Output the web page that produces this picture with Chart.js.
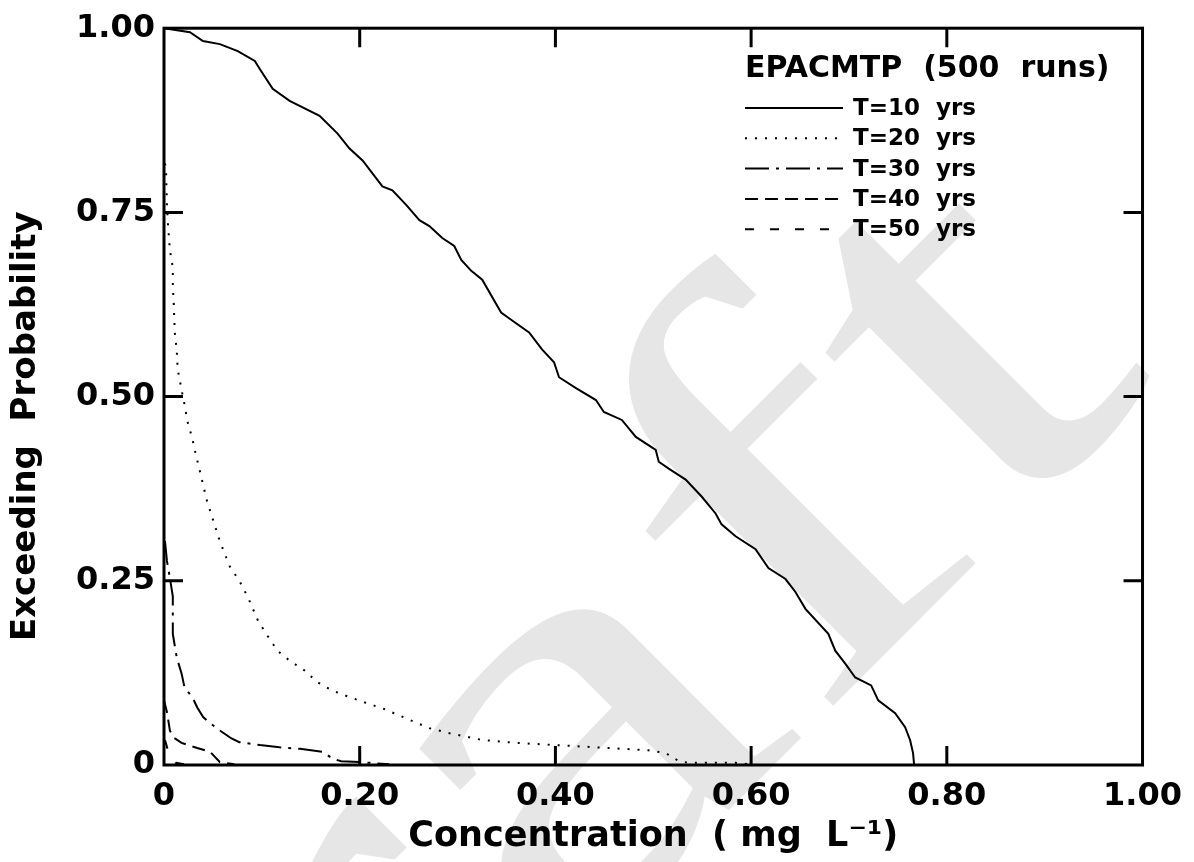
<!DOCTYPE html>
<html>
<head>
<meta charset="utf-8">
<title>EPACMTP exceeding probability</title>
<script src="https://cdn.jsdelivr.net/npm/chart.js@4.4.1/dist/chart.umd.min.js"></script>
<style>
  html, body { margin: 0; padding: 0; background: #fff; }
  #wrap { width: 1194px; height: 862px; }
</style>
</head>
<body>
<div id="wrap"><canvas id="chart" width="1194" height="862"></canvas></div>
<script>
// ===== DATA =====
var xTickValues = [0, 0.2, 0.4, 0.6, 0.8, 1.0];
var xTickLabels = ["0", "0.20", "0.40", "0.60", "0.80", "1.00"];
var yTickValues = [0, 0.25, 0.5, 0.75, 1.0];
var yTickLabels = ["0", "0.25", "0.50", "0.75", "1.00"];

var legendTitle = "EPACMTP  (500  runs)";
var seriesNames = ["T=10  yrs", "T=20  yrs", "T=30  yrs", "T=40  yrs", "T=50  yrs"];
var watermarkText = "Draft";

// T=10 yrs (solid)
var t10Conc = [0, 0.0265, 0.0398, 0.0571, 0.0754, 0.0928, 0.0979, 0.1111, 0.1284, 0.1590, 0.1774, 0.1896,
  0.2029, 0.2232, 0.2334, 0.2477, 0.2610, 0.2712, 0.2844, 0.2966, 0.3038, 0.3140, 0.3252, 0.3445, 0.3558,
  0.3731, 0.3863, 0.3986, 0.4037, 0.4210, 0.4414, 0.4495, 0.4679, 0.4822, 0.5025, 0.5056, 0.5158, 0.5331,
  0.5494, 0.5637, 0.5698, 0.5841, 0.6045, 0.6177, 0.6351, 0.6453, 0.6555, 0.6789, 0.6860, 0.6962, 0.7064,
  0.7227, 0.7299, 0.7472, 0.7574, 0.7625, 0.7655, 0.7666];
var t10Prob = [1.0, 0.9946, 0.9825, 0.9784, 0.9690, 0.9555, 0.9447, 0.9177, 0.9015, 0.8812, 0.8570, 0.8367,
  0.8205, 0.7854, 0.7800, 0.7598, 0.7395, 0.7314, 0.7152, 0.7045, 0.6856, 0.6707, 0.6586, 0.6140, 0.6032,
  0.5870, 0.5641, 0.5466, 0.5263, 0.5115, 0.4953, 0.4791, 0.4683, 0.4453, 0.4278, 0.4116, 0.4022, 0.3873,
  0.3644, 0.3414, 0.3266, 0.3104, 0.2928, 0.2672, 0.2524, 0.2348, 0.2119, 0.1781, 0.1552, 0.1377, 0.1188,
  0.1080, 0.0877, 0.0702, 0.0513, 0.0337, 0.0162, 0];

// T=20 yrs (dotted)
var t20Conc = [0.001, 0.002, 0.003, 0.004, 0.006, 0.009, 0.009, 0.010, 0.011, 0.013, 0.014, 0.017, 0.019,
  0.021, 0.024, 0.029, 0.031, 0.044, 0.057, 0.067, 0.077, 0.086, 0.096, 0.106, 0.116, 0.128, 0.144, 0.156,
  0.172, 0.190, 0.207, 0.225, 0.248, 0.271, 0.292, 0.325, 0.360, 0.401, 0.441, 0.468, 0.495, 0.513, 0.521,
  0.529, 0.539, 0.584, 0.605];
var t20Prob = [0.8165, 0.810, 0.760, 0.735, 0.699, 0.675, 0.650, 0.625, 0.587, 0.563, 0.537, 0.516, 0.502,
  0.489, 0.466, 0.443, 0.430, 0.358, 0.304, 0.270, 0.250, 0.227, 0.196, 0.175, 0.155, 0.142, 0.128, 0.113,
  0.101, 0.092, 0.084, 0.076, 0.063, 0.050, 0.043, 0.034, 0.030, 0.027, 0.024, 0.022, 0.020, 0.016, 0.009,
  0.004, 0.003, 0.003, 0];

// T=30 yrs (dash-dot)
var t30Conc = [0.001, 0.003, 0.006, 0.009, 0.009, 0.013, 0.018, 0.021, 0.029, 0.034, 0.040, 0.047, 0.057,
  0.069, 0.077, 0.098, 0.118, 0.139, 0.162, 0.172, 0.181, 0.200, 0.230];
var t30Prob = [0.304, 0.277, 0.254, 0.229, 0.178, 0.146, 0.124, 0.105, 0.092, 0.078, 0.065, 0.057, 0.047,
  0.036, 0.031, 0.027, 0.024, 0.022, 0.018, 0.009, 0.005, 0.004, 0.001];

// T=40 yrs (long dashes)
var t40Conc = [0, 0.003, 0.006, 0.009, 0.018, 0.034, 0.047, 0.052, 0.057, 0.072];
var t40Prob = [0.088, 0.072, 0.047, 0.038, 0.030, 0.023, 0.018, 0.011, 0.004, 0.001];

// T=50 yrs (short dashes)
var t50Conc = [0.001, 0.004, 0.009, 0.012, 0.026];
var t50Prob = [0.034, 0.020, 0.011, 0.003, 0];

var seriesConc = [t10Conc, t20Conc, t30Conc, t40Conc, t50Conc];
var seriesProb = [t10Prob, t20Prob, t30Prob, t40Prob, t50Prob];
var seriesDash = [[], [2, 8], [24, 7, 3, 7], [13, 7], [9, 16]];

// ===== HELPERS =====
function toPoints(xs, ys) {
  var pts = [];
  for (var i = 0; i < xs.length; i++) {
    pts.push({ x: xs[i], y: ys[i] });
  }
  return pts;
}

var datasets = [];
for (var s = 0; s < seriesNames.length; s++) {
  datasets.push({
    label: seriesNames[s],
    data: toPoints(seriesConc[s], seriesProb[s]),
    borderColor: "#000",
    borderWidth: 2,
    borderDash: seriesDash[s],
    borderCapStyle: "butt",
    pointRadius: 0,
    tension: 0,
    fill: false
  });
}

var FONT = "DejaVu Sans";

// big grey "Draft" behind everything (wide serif, so stretched sideways)
var watermark = {
  id: "watermark",
  beforeDraw: function(chart) {
    var ctx = chart.ctx;
    var size = 580;
    ctx.save();
    ctx.fillStyle = "#e6e6e6";
    ctx.font = size + "px 'Liberation Serif'";
    ctx.textBaseline = "alphabetic";
    ctx.textAlign = "left";
    ctx.translate(878, 661);
    ctx.rotate(-Math.PI / 4);
    ctx.scale(1.4, 1);
    var fX = -0.12 * size;           // f origin, its stem sits on the anchor
    var head = watermarkText.slice(0, 3);
    ctx.fillText(watermarkText, fX - ctx.measureText(head).width, 0);
    ctx.restore();
  }
};

// box round the plot + inward ticks on all four sides
var frameTicks = {
  id: "frameTicks",
  afterDatasetsDraw: function(chart) {
    var ctx = chart.ctx;
    var a = chart.chartArea;
    var xs = chart.scales.x, ys = chart.scales.y;
    var len = 19;
    ctx.save();
    ctx.strokeStyle = "#000";
    ctx.lineWidth = 3;
    ctx.lineCap = "butt";
    ctx.beginPath();
    for (var i = 1; i < xTickValues.length - 1; i++) {
      var px = xs.getPixelForValue(xTickValues[i]);
      ctx.moveTo(px, a.bottom); ctx.lineTo(px, a.bottom - len);
      ctx.moveTo(px, a.top); ctx.lineTo(px, a.top + len);
    }
    for (var j = 1; j < yTickValues.length - 1; j++) {
      var py = ys.getPixelForValue(yTickValues[j]);
      ctx.moveTo(a.left, py); ctx.lineTo(a.left + len, py);
      ctx.moveTo(a.right, py); ctx.lineTo(a.right - len, py);
    }
    ctx.stroke();
    ctx.strokeRect(a.left, a.top, a.right - a.left, a.bottom - a.top);
    ctx.restore();
  }
};

// legend in the top right corner, drawn from the datasets
var cornerLegend = {
  id: "cornerLegend",
  afterDraw: function(chart) {
    var ctx = chart.ctx;
    var x0 = 745, lineLen = 98, textX = 853;
    ctx.save();
    ctx.fillStyle = "#000";
    ctx.textBaseline = "middle";
    ctx.textAlign = "left";
    ctx.font = "bold 30px '" + FONT + "'";
    ctx.fillText(legendTitle, x0, 69);
    ctx.font = "bold 23px '" + FONT + "'";
    chart.data.datasets.forEach(function(ds, i) {
      var y = 108 + i * 30.3;
      ctx.strokeStyle = "#000";
      ctx.lineWidth = 2;
      ctx.setLineDash(ds.borderDash);
      ctx.beginPath();
      ctx.moveTo(x0, y);
      ctx.lineTo(x0 + lineLen, y);
      ctx.stroke();
      ctx.setLineDash([]);
      ctx.fillText(ds.label, textX, y + 1);
    });
    ctx.restore();
  }
};

new Chart(document.getElementById("chart"), {
  type: "line",
  data: { datasets: datasets },
  options: {
    responsive: false,
    animation: false,
    devicePixelRatio: 1,
    layout: { padding: { left: 0, top: 24, right: 49, bottom: 0 } },
    plugins: {
      legend: { display: false },
      tooltip: { enabled: false },
      title: { display: false }
    },
    scales: {
      x: {
        type: "linear",
        min: 0,
        max: 1,
        afterBuildTicks: function(scale) {
          scale.ticks = xTickValues.map(function(v) { return { value: v }; });
        },
        afterFit: function(scale) { scale.height = 97; },
        grid: { display: false, drawTicks: false },
        border: { display: false },
        ticks: {
          padding: 12,
          maxRotation: 0,
          color: "#000",
          font: { family: FONT, size: 32, weight: "bold" },
          callback: function(value) {
            var k = xTickValues.indexOf(value);
            return k >= 0 ? xTickLabels[k] : "";
          }
        },
        title: {
          display: true,
          text: "Concentration  ( mg  L\u207B\u00B9)",
          color: "#000",
          font: { family: FONT, size: 35, weight: "bold" },
          padding: { top: 0, bottom: 4 }
        }
      },
      y: {
        type: "linear",
        min: 0,
        max: 1,
        afterBuildTicks: function(scale) {
          scale.ticks = yTickValues.map(function(v) { return { value: v }; });
        },
        afterFit: function(scale) { scale.width = 164; },
        grid: { display: false, drawTicks: false },
        border: { display: false },
        ticks: {
          padding: 9,
          color: "#000",
          font: { family: FONT, size: 32, weight: "bold" },
          callback: function(value) {
            var k = yTickValues.indexOf(value);
            return k >= 0 ? yTickLabels[k] : "";
          }
        },
        title: {
          display: true,
          // trailing spaces push the text down to where it sits in the original
          text: "Exceeding  Probability     ",
          color: "#000",
          font: { family: FONT, size: 34, weight: "bold" },
          padding: { top: 6, bottom: 0 }
        }
      }
    }
  },
  plugins: [watermark, frameTicks, cornerLegend]
});
</script>
</body>
</html>
